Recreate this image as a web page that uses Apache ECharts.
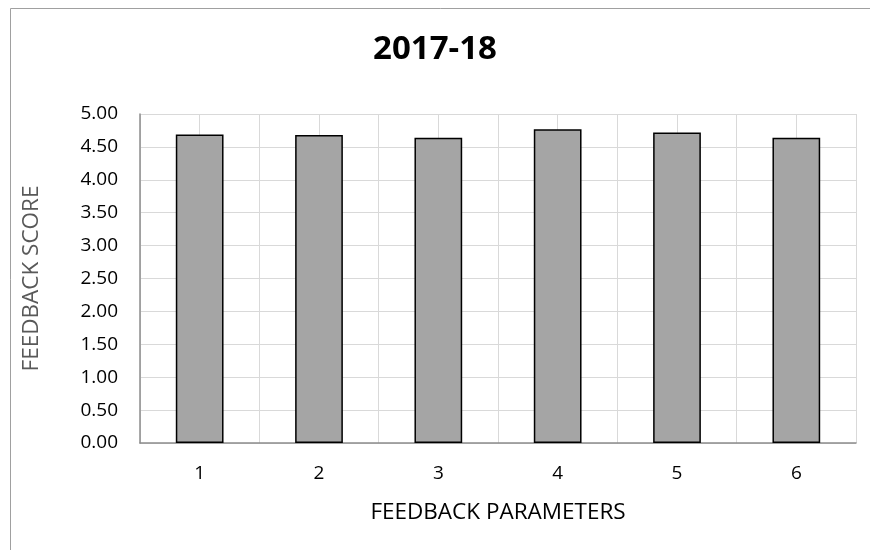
<!DOCTYPE html>
<html>
<head>
<meta charset="utf-8">
<script src="https://cdn.jsdelivr.net/npm/echarts@6/dist/echarts.min.js"></script>
<style>html,body{margin:0;padding:0;background:#fff}#c{width:870px;height:550px}</style>
</head>
<body>
<div id="c"></div>
<script>
const categories = ['1', '2', '3', '4', '5', '6'];
const scores = [4.69, 4.68, 4.64, 4.77, 4.72, 4.64];
const title = '2017-18';
const xName = 'FEEDBACK PARAMETERS';
const yName = 'FEEDBACK SCORE';
const halfSlots = ['', '', '', '', '', '', '', '', '', '', '', ''];

const chart = echarts.init(document.getElementById('c'));
const font = 'Open Sans';
chart.setOption({
  animation: false,
  backgroundColor: '#fff',
  graphic: [{
    type: 'rect', shape: {x: 10.5, y: 8.5, width: 900, height: 600},
    style: {fill: 'none', stroke: '#a0a0a0', lineWidth: 1}, z: -10
  }],
  title: {
    text: title, left: 'center', top: 28,
    textStyle: {fontFamily: font, fontSize: 33, fontWeight: 'bold', color: '#000'}
  },
  grid: {left: 140, right: 14, top: 114, bottom: 107},
  xAxis: [{
    type: 'category', data: categories,
    axisTick: {show: false},
    axisLine: {lineStyle: {color: '#8c8c8c', width: 1.5}},
    axisLabel: {fontFamily: font, fontSize: 19, color: '#000', margin: 21},
    name: xName, nameLocation: 'middle', nameGap: 58,
    nameTextStyle: {fontFamily: font, fontSize: 22.5, color: '#000'},
    splitLine: {show: false}, z: 3
  }, {
    type: 'category', data: halfSlots, position: 'bottom',
    axisLine: {show: false}, axisTick: {show: false}, axisLabel: {show: false},
    splitLine: {show: true, interval: 0, lineStyle: {color: '#d9d9d9', width: 1}}
  }],
  yAxis: {
    type: 'value', min: 0, max: 5, interval: 0.5,
    axisLine: {show: true, lineStyle: {color: '#8c8c8c', width: 1.5}},
    axisTick: {show: false},
    axisLabel: {fontFamily: font, fontSize: 19, color: '#000', margin: 22,
      formatter: v => v.toFixed(2)},
    splitLine: {lineStyle: {color: '#d9d9d9', width: 1}},
    name: yName, nameLocation: 'middle', nameGap: 97,
    nameTextStyle: {fontFamily: font, fontSize: 22.5, color: '#595959'}
  },
  series: [{
    type: 'bar', xAxisIndex: 0, data: scores, barWidth: '40%',
    itemStyle: {color: '#a5a5a5', borderColor: '#000', borderWidth: 1.5},
    z: 5
  }]
});
</script>
</body>
</html>
